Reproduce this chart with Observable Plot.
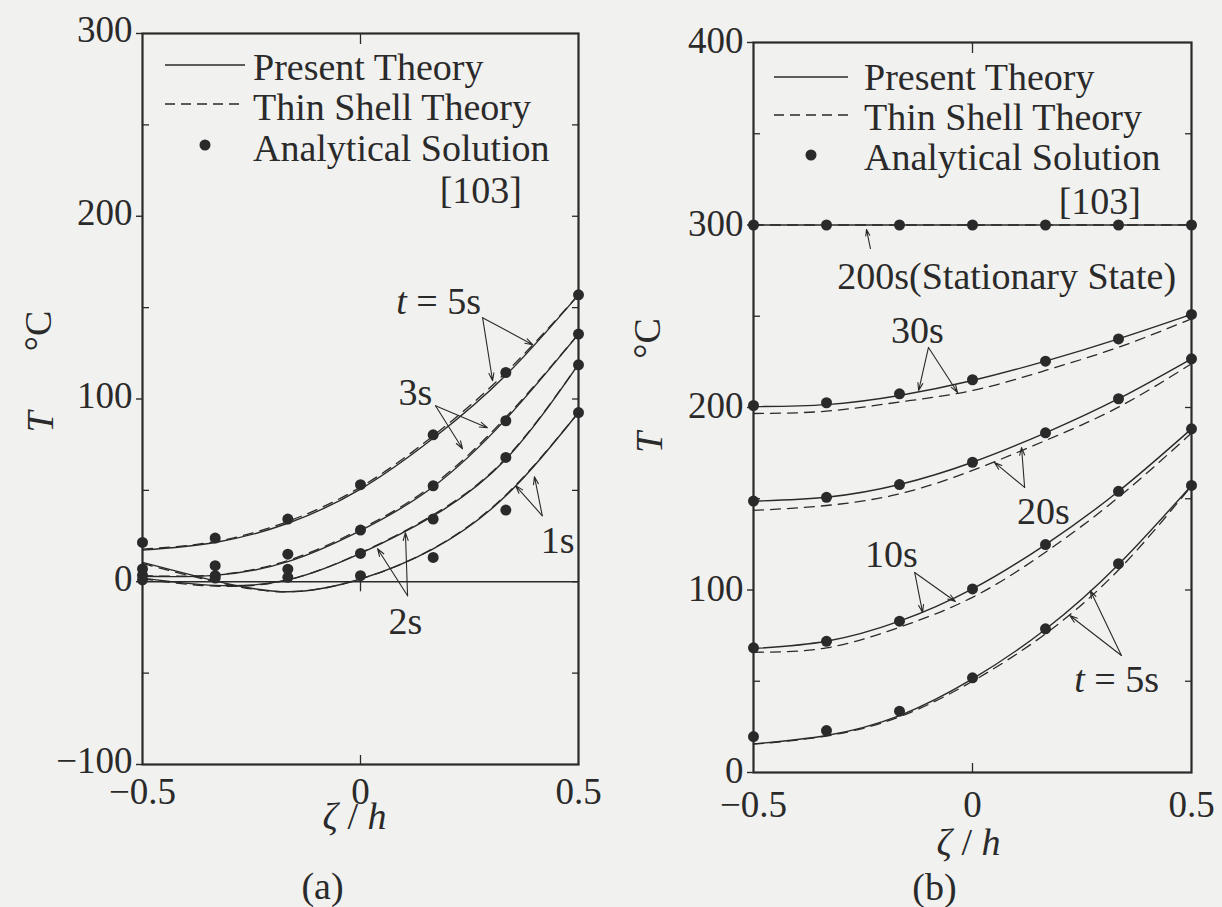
<!DOCTYPE html>
<html>
<head>
<meta charset="utf-8">
<script src="https://cdn.jsdelivr.net/npm/d3@7"></script>
<script src="https://cdn.jsdelivr.net/npm/@observablehq/plot@0.6"></script>
<style>
  html, body { margin: 0; padding: 0; background: #f1f1ef; }
  #page { position: relative; width: 1222px; height: 907px; overflow: hidden; background: #f1f1ef; }
  .panel { position: absolute; top: 0; }
  #legends { position: absolute; left: 0; top: 0; pointer-events: none; }
</style>
</head>
<body>
<div id="page">
  <div class="panel" id="panelA" style="left:0px"></div>
  <div class="panel" id="panelB" style="left:611px"></div>
</div>
<script>
// Through-thickness stations ζ/h where the temperatures are tabulated
const zeta = [-0.5, -1/3, -1/6, 0, 1/6, 1/3, 0.5];

// ---- (a) early heating times, T in °C ----
const timesA = ["5s", "3s", "2s", "1s"];
const presentA_5s = [17.3, 21.5, 32.0, 50.7, 78.5, 113.0, 157.0];
const presentA_3s = [3.0, 3.5, 11.0, 28.0, 52.0, 89.0, 135.5];
const presentA_2s = [2.0, -2.0, 1.0, 15.5, 36.0, 67.0, 119.0];
const presentA_1s = [10.6, 0.5, -5.5, 1.5, 18.0, 47.0, 92.6];
const thinA_5s = [17.8, 22.0, 33.0, 51.8, 79.8, 114.5, 157.0];
const thinA_3s = [3.3, 3.8, 11.6, 28.8, 53.0, 90.0, 135.5];
const thinA_2s = [1.6, -2.4, 1.0, 15.8, 36.6, 67.6, 119.0];
const thinA_1s = [10.0, 0.0, -5.5, 1.5, 18.2, 47.5, 92.6];
const exactA_5s = [21.5, 23.9, 34.3, 53.1, 80.4, 114.5, 157.0];
const exactA_3s = [7.0, 8.8, 15.1, 28.3, 52.5, 88.1, 135.5];
const exactA_2s = [3.5, 3.3, 6.9, 15.5, 34.3, 68.0, 118.7];
const exactA_1s = [1.0, 2.0, 2.4, 3.3, 13.3, 39.2, 92.6];

// ---- (b) later heating times up to the stationary state ----
const timesB = ["200s", "30s", "20s", "10s", "5s"];
const presentB_200s = [300, 300, 300, 300, 300, 300, 300];
const presentB_30s = [200.5, 201.6, 206.6, 214.8, 225.4, 237.6, 251.0];
const presentB_20s = [148.7, 150.8, 157.8, 170.0, 186.1, 204.8, 226.7];
const presentB_10s = [67.9, 71.9, 82.9, 100.6, 124.9, 154.1, 188.3];
const presentB_5s = [15.7, 20.3, 31.2, 51.3, 78.5, 114.0, 157.3];
const thinB_200s = [300, 300, 300, 300, 300, 300, 300];
const thinB_30s = [196.7, 198.0, 203.0, 209.3, 220.3, 233.0, 248.6];
const thinB_20s = [143.6, 146.3, 152.7, 165.5, 181.9, 200.2, 224.0];
const thinB_10s = [65.9, 68.3, 79.6, 96.0, 120.7, 150.8, 186.0];
const thinB_5s = [15.5, 20.0, 30.5, 50.0, 76.0, 111.0, 157.0];
const exactB_200s = [300, 300, 300, 300, 300, 300, 300];
const exactB_30s = [201.1, 202.6, 207.5, 215.2, 225.4, 237.6, 251.0];
const exactB_20s = [148.7, 150.8, 157.8, 170.0, 186.1, 204.8, 226.7];
const exactB_10s = [68.3, 71.9, 82.9, 100.6, 124.9, 154.1, 188.3];
const exactB_5s = [19.7, 23.0, 33.6, 51.9, 78.7, 114.4, 157.3];

// Axis ticks
const xTicks = [-0.5, 0, 0.5];
const yMajorA = [-100, 0, 100, 200, 300];
const yMinorA = [-50, 50, 150, 250];
const yRightA = [-50, 0, 50, 100, 150, 200, 250];
const yMajorB = [0, 100, 200, 300, 400];
const yMinorB = [50, 150, 250, 350];
const yRightB = [50, 100, 150, 200, 250, 350];

// Legend entries
const legendLabels = ["Present Theory", "Thin Shell Theory", "Analytical Solution"];
const legendRef = "[103]";

// Time labels and their pointer arrows, in (ζ/h, T) units
const labelsA = [
  {text: "t = 5s", zeta: 0.179, T: 153},
  {text: "3s", zeta: 0.126, T: 103.4},
  {text: "1s", zeta: 0.452, T: 22.4},
  {text: "2s", zeta: 0.103, T: -21.9}
];
const pointersA = [
  {z1: 0.280, T1: 144.5, z2: 0.395, T2: 129.7},
  {z1: 0.280, T1: 144.5, z2: 0.303, T2: 110.0},
  {z1: 0.172, T1: 96.3, z2: 0.291, T2: 84.3},
  {z1: 0.172, T1: 96.3, z2: 0.234, T2: 72.8},
  {z1: 0.417, T1: 36.1, z2: 0.399, T2: 57.5},
  {z1: 0.417, T1: 36.1, z2: 0.356, T2: 52.5},
  {z1: 0.108, T1: -7.7, z2: 0.103, T2: 26.8},
  {z1: 0.108, T1: -7.7, z2: 0.039, T2: 18.1}
];
const labelsB = [
  {text: "200s(Stationary State)", zeta: 0.078, T: 271.5},
  {text: "30s", zeta: -0.126, T: 242.2},
  {text: "20s", zeta: 0.162, T: 143},
  {text: "10s", zeta: -0.185, T: 119.5},
  {text: "t = 5s", zeta: 0.329, T: 51}
];
const pointersB = [
  {z1: -0.233, T1: 287.1, z2: -0.242, T2: 297.5},
  {z1: -0.1005, T1: 232.9, z2: -0.123, T2: 209.3},
  {z1: -0.1005, T1: 232.9, z2: -0.034, T2: 208.2},
  {z1: 0.119, T1: 156.2, z2: 0.112, T2: 178.1},
  {z1: 0.119, T1: 156.2, z2: 0.050, T2: 169.9},
  {z1: -0.132, T1: 109.6, z2: -0.114, T2: 87.7},
  {z1: -0.132, T1: 109.6, z2: -0.039, T2: 93.7},
  {z1: 0.340, T1: 64.1, z2: 0.269, T2: 99.7},
  {z1: 0.340, T1: 64.1, z2: 0.222, T2: 86.0}
];

// ---------------------------------------------------------------
const ink = "#2a2a2a";
const serif = "'Liberation Serif', 'Times New Roman', Times, serif";
const fs = 37;
const fsText = 38;

// Plain numbers with a typographic minus: 0 stays "0", −0.5, −100
const numFormat = d => (d < 0 ? "\u2212" : "") + String(Math.abs(d));

const rows = (values, t) => values.map((T, i) => ({zeta: zeta[i], T, t}));

const presentA = [...rows(presentA_5s, "5s"), ...rows(presentA_3s, "3s"), ...rows(presentA_2s, "2s"), ...rows(presentA_1s, "1s")];
const thinA = [...rows(thinA_5s, "5s"), ...rows(thinA_3s, "3s"), ...rows(thinA_2s, "2s"), ...rows(thinA_1s, "1s")];
const exactA = [...rows(exactA_5s, "5s"), ...rows(exactA_3s, "3s"), ...rows(exactA_2s, "2s"), ...rows(exactA_1s, "1s")];

const presentB = [...rows(presentB_200s, "200s"), ...rows(presentB_30s, "30s"), ...rows(presentB_20s, "20s"), ...rows(presentB_10s, "10s"), ...rows(presentB_5s, "5s")];
const thinB = [...rows(thinB_200s, "200s"), ...rows(thinB_30s, "30s"), ...rows(thinB_20s, "20s"), ...rows(thinB_10s, "10s"), ...rows(thinB_5s, "5s")];
const exactB = [...rows(exactB_200s, "200s"), ...rows(exactB_30s, "30s"), ...rows(exactB_20s, "20s"), ...rows(exactB_10s, "10s"), ...rows(exactB_5s, "5s")];

// Mixed italic / roman strings rebuilt as tspans
function richText(svg) {
  const ns = "http://www.w3.org/2000/svg";
  const parts = {
    "ζ / h": [["ζ", true], [" / ", false], ["h", true]],
    "t = 5s": [["t", true], [" = 5s", false]]
  };
  svg.querySelectorAll("text").forEach(el => {
    const spec = parts[el.textContent];
    if (!spec || el.children.length) return;
    el.textContent = "";
    for (const [s, it] of spec) {
      const ts = document.createElementNS(ns, "tspan");
      ts.textContent = s;
      if (it) ts.setAttribute("font-style", "italic");
      el.appendChild(ts);
    }
  });
}

function curveMarks(present, thin, exact) {
  return [
    Plot.line(thin, {x: "zeta", y: "T", z: "t", curve: "natural", stroke: ink, strokeWidth: 1.3, strokeDasharray: "10,7"}),
    Plot.line(present, {x: "zeta", y: "T", z: "t", curve: "natural", stroke: ink, strokeWidth: 1.4}),
    Plot.dot(exact, {x: "zeta", y: "T", r: 5.5, fill: ink, stroke: "none"})
  ];
}

function annotationMarks(labels, pointers) {
  return [
    Plot.arrow(pointers, {x1: "z1", y1: "T1", x2: "z2", y2: "T2", stroke: ink, strokeWidth: 1.1, headLength: 11, headAngle: 36, bend: 0}),
    Plot.text(labels, {x: "zeta", y: "T", text: "text", fontSize: fsText, textAnchor: "middle", lineAnchor: "middle", fill: ink})
  ];
}

function axisMarks({yMajor, yMinor, yRight, yLabelDy, xPad}) {
  return [
    Plot.axisY({anchor: "left", ticks: yMajor, tickSize: 6, fill: "none", label: null, stroke: ink, strokeWidth: 1.4}),
    Plot.axisY({anchor: "left", ticks: yMajor, tickSize: 0, tickPadding: 10, dy: yLabelDy, tickFormat: numFormat, fontSize: fs, label: null, fill: ink}),
    Plot.axisY({anchor: "left", ticks: yMinor, tickSize: 7, dx: 7, fill: "none", label: null, stroke: ink, strokeWidth: 1.3}),
    Plot.axisY({anchor: "right", ticks: yRight, tickSize: 7, dx: -7, fill: "none", label: null, stroke: ink, strokeWidth: 1.3}),
    Plot.axisX({anchor: "top", ticks: [0], tickSize: 10, dy: 10, fill: "none", label: null, stroke: ink, strokeWidth: 1.3}),
    Plot.axisX({anchor: "bottom", ticks: [0], tickSize: 9, dy: -9, fill: "none", label: null, stroke: ink, strokeWidth: 1.3}),
    Plot.axisX({anchor: "bottom", ticks: xTicks, tickSize: 0, tickPadding: xPad, tickFormat: numFormat, fontSize: fs, label: null, fill: ink})
  ];
}

function titleMarks({xLabelDx, xLabelDy, capDx, capDy, caption, tDx, tDy, degDx, degDy}) {
  return [
    Plot.text(["ζ / h"], {text: d => d, frameAnchor: "bottom", dx: xLabelDx, dy: xLabelDy, lineAnchor: "middle", textAnchor: "middle", fontSize: fsText, fill: ink}),
    Plot.text([caption], {text: d => d, frameAnchor: "bottom", dx: capDx, dy: capDy, lineAnchor: "middle", textAnchor: "middle", fontSize: fsText, fill: ink}),
    Plot.text(["T"], {text: d => d, frameAnchor: "left", dx: tDx, dy: tDy, rotate: -90, lineAnchor: "middle", textAnchor: "middle", fontStyle: "italic", fontSize: fsText, fill: ink}),
    Plot.text(["°C"], {text: d => d, frameAnchor: "left", dx: degDx, dy: degDy, rotate: -90, lineAnchor: "middle", textAnchor: "middle", fontSize: fsText, fill: ink})
  ];
}

const common = {
  width: 611,
  height: 907,
  style: {background: "transparent", fontFamily: serif, fontSize: fs + "px", color: ink, overflow: "visible"}
};

// ---- panel (a) ----
const plotA = Plot.plot({
  ...common,
  marginLeft: 142, marginRight: 33, marginTop: 33, marginBottom: 143,
  x: {domain: [-0.5, 0.5]},
  y: {domain: [-100, 300]},
  marks: [
    Plot.ruleY([0], {stroke: ink, strokeWidth: 1.3}),
    Plot.ruleX([0], {y1: 0, y2: -5.5, stroke: ink, strokeWidth: 1.3}),
    ...curveMarks(presentA, thinA, exactA),
    ...annotationMarks(labelsA, pointersA),
    Plot.frame({stroke: ink, strokeWidth: 2.2}),
    ...axisMarks({yMajor: yMajorA, yMinor: yMinorA, yRight: yRightA, yLabelDy: -3, xPad: 13}),
    ...titleMarks({xLabelDx: -6, xLabelDy: 52, capDx: -38, capDy: 122, caption: "(a)", tDx: -102, tDy: 23, degDx: -104, degDy: -68})
  ]
});
richText(plotA);
document.getElementById("panelA").appendChild(plotA);

// ---- panel (b) ----
const plotB = Plot.plot({
  ...common,
  marginLeft: 142, marginRight: 31, marginTop: 42, marginBottom: 135,
  x: {domain: [-0.5, 0.5]},
  y: {domain: [0, 400]},
  marks: [
    ...curveMarks(presentB, thinB, exactB),
    ...annotationMarks(labelsB, pointersB),
    Plot.frame({stroke: ink, strokeWidth: 2.2}),
    ...axisMarks({yMajor: yMajorB, yMinor: yMinorB, yRight: yRightB, yLabelDy: -1, xPad: 18}),
    ...titleMarks({xLabelDx: -4, xLabelDy: 70, capDx: -38, capDy: 115, caption: "(b)", tDx: -104, tDy: 35, degDx: -106, degDy: -69})
  ]
});
richText(plotB);
document.getElementById("panelB").appendChild(plotB);

// ---- legends drawn inside each frame ----
const legendSvg = d3.select("#page").append("svg")
  .attr("id", "legends").attr("width", 1222).attr("height", 907)
  .style("font-family", serif).style("font-size", fsText + "px");

function drawLegend(g, {x0, x1, xText, yRows, textMid, refRight, refMid}) {
  g.append("line").attr("x1", x0).attr("x2", x1).attr("y1", yRows[0]).attr("y2", yRows[0])
    .attr("stroke", ink).attr("stroke-width", 1.4);
  g.append("line").attr("x1", x0).attr("x2", x1).attr("y1", yRows[1]).attr("y2", yRows[1])
    .attr("stroke", ink).attr("stroke-width", 1.3).attr("stroke-dasharray", "10,6");
  g.append("circle").attr("cx", (x0 + x1) / 2).attr("cy", yRows[2]).attr("r", 5.5).attr("fill", ink);
  legendLabels.forEach((s, i) => {
    g.append("text").attr("x", xText).attr("y", textMid[i]).attr("dy", "0.32em")
      .attr("fill", ink).text(s);
  });
  g.append("text").attr("x", refRight).attr("y", refMid).attr("dy", "0.32em")
    .attr("text-anchor", "end").attr("fill", ink).text(legendRef);
}

drawLegend(legendSvg.append("g"), {
  x0: 165, x1: 245, xText: 253,
  yRows: [65, 104, 145], textMid: [68, 108, 149],
  refRight: 522, refMid: 191
});
drawLegend(legendSvg.append("g"), {
  x0: 774, x1: 848, xText: 864,
  yRows: [77, 115, 155], textMid: [78, 118, 158],
  refRight: 1141, refMid: 202
});
</script>
</body>
</html>
